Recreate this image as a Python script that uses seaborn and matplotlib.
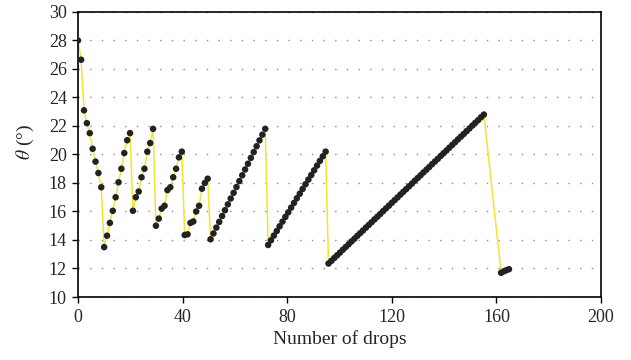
import matplotlib
matplotlib.use("Agg")
import matplotlib.pyplot as plt
import seaborn as sns
import pandas as pd

# Number of drops (x) and contact angle theta (y)
drops = [
    0.0, 1.2, 2.3, 3.4, 4.5, 5.6, 6.7, 7.8, 8.9,
    10.0, 11.1, 12.2, 13.3, 14.4, 15.5, 16.6, 17.7, 18.8, 19.9,
    21.0, 22.1, 23.2, 24.3, 25.4, 26.5, 27.6, 28.7,
    29.8, 30.9, 32.0, 33.1, 34.2, 35.3, 36.4, 37.5, 38.6, 39.7,
    40.8, 41.9, 43.0, 44.1, 45.2, 46.3, 47.4, 48.5, 49.6,
    50.7, 51.8, 52.9, 54.0, 55.1, 56.2, 57.3, 58.4, 59.5, 60.6,
    61.7, 62.8, 63.9, 65.0, 66.1, 67.2, 68.3, 69.4, 70.5, 71.6,
    72.7, 73.8, 74.9, 76.0, 77.1, 78.2, 79.3, 80.4, 81.5, 82.6,
    83.7, 84.8, 85.9, 87.0, 88.1, 89.2, 90.3, 91.4, 92.5, 93.6, 94.7,
    95.8, 96.9, 98.0, 99.1, 100.2, 101.3, 102.4, 103.5, 104.6, 105.7,
    106.8, 107.9, 109.0, 110.1, 111.2, 112.3, 113.4, 114.5, 115.6, 116.7,
    117.8, 118.9, 120.0, 121.1, 122.2, 123.3, 124.4, 125.5, 126.6, 127.7,
    128.8, 129.9, 131.0, 132.1, 133.2, 134.3, 135.4, 136.5, 137.6, 138.7,
    139.8, 140.9, 142.0, 143.1, 144.2, 145.3, 146.4, 147.5, 148.6, 149.7,
    150.8, 151.9, 153.0, 154.1, 155.2,
    161.8, 162.8, 163.8, 164.8,
]
theta = [
    28.0, 26.65, 23.1, 22.2, 21.5, 20.4, 19.5, 18.7, 17.7,
    13.5, 14.3, 15.2, 16.05, 17.0, 18.05, 19.0, 20.1, 21.0, 21.5,
    16.05, 17.0, 17.4, 18.4, 19.0, 20.2, 20.8, 21.8,
    15.0, 15.5, 16.2, 16.4, 17.5, 17.7, 18.4, 19.0, 19.8, 20.2,
    14.35, 14.4, 15.2, 15.3, 16.0, 16.4, 17.6, 18.0, 18.3,
    14.05, 14.46, 14.87, 15.27, 15.68, 16.09, 16.5, 16.91, 17.31, 17.72,
    18.13, 18.54, 18.95, 19.35, 19.76, 20.17, 20.58, 20.99, 21.39, 21.8,
    13.65, 13.98, 14.31, 14.63, 14.96, 15.29, 15.62, 15.94, 16.27, 16.6,
    16.93, 17.25, 17.58, 17.91, 18.24, 18.56, 18.89, 19.22, 19.55, 19.87, 20.2,
    12.35, 12.54, 12.74, 12.93, 13.12, 13.32, 13.51, 13.70, 13.90, 14.09,
    14.29, 14.48, 14.67, 14.87, 15.06, 15.25, 15.45, 15.64, 15.83, 16.03,
    16.22, 16.41, 16.61, 16.80, 16.99, 17.19, 17.38, 17.57, 17.77, 17.96,
    18.16, 18.35, 18.54, 18.74, 18.93, 19.12, 19.32, 19.51, 19.70, 19.90,
    20.09, 20.28, 20.48, 20.67, 20.86, 21.06, 21.25, 21.44, 21.64, 21.83,
    22.03, 22.22, 22.41, 22.61, 22.80,
    11.7, 11.8, 11.88, 11.95,
]
x_ticks = [0, 40, 80, 120, 160, 200]
y_ticks = [10, 12, 14, 16, 18, 20, 22, 24, 26, 28, 30]

sns.set_style("white")
plt.rcParams['font.family'] = ['Liberation Serif', 'DejaVu Serif']
plt.rcParams['mathtext.fontset'] = 'stix'

df = pd.DataFrame({"drops": drops, "theta": theta})

fig = plt.figure(figsize=(6.31, 3.6), dpi=100)
ax = fig.add_axes([0.1236, 0.175, 0.8289, 0.7917])

sns.lineplot(data=df, x="drops", y="theta", sort=False, estimator=None,
             color="#f2e62c", linewidth=1.1, ax=ax, zorder=2)
sns.scatterplot(data=df, x="drops", y="theta", color="#222222", s=22,
                edgecolor="none", ax=ax, zorder=3)

ax.set_xlim(0, 200)
ax.set_ylim(10, 30)
ax.set_xticks(x_ticks)
ax.set_yticks(y_ticks)
ax.set_xticklabels([str(t) for t in x_ticks], fontsize=13)
ax.set_yticklabels([str(t) for t in y_ticks], fontsize=13)
ax.tick_params(axis='both', direction='out', length=4, width=1, color='black',
               bottom=True, left=True)
ax.tick_params(axis='x', pad=5)
ax.tick_params(axis='y', pad=4)
ax.grid(axis='y', color='#888888', linestyle=(0, (1, 7.4)), linewidth=1)
ax.grid(axis='x', visible=False)
ax.set_axisbelow(True)
for s in ax.spines.values():
    s.set_color('black')
    s.set_linewidth(1.2)

ax.set_xlabel("Number of drops", fontsize=14, labelpad=2.5)
ax.set_ylabel(r"$\theta$ (°)", fontsize=14)
ax.yaxis.set_label_coords(-0.08, 0.544)

fig.savefig("out.png", dpi=100)
